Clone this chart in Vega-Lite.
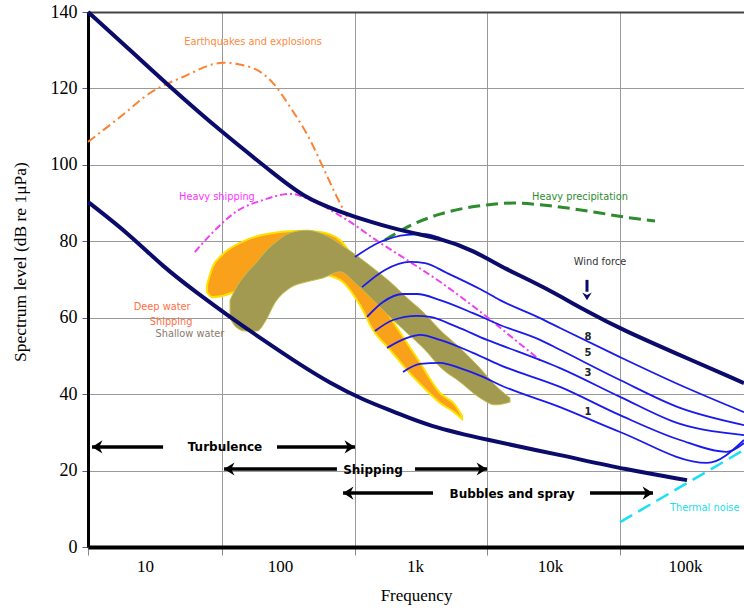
{
"$schema": "https://vega.github.io/schema/vega-lite/v6.json",
"width": 656, "height": 535,
"autosize": {"type": "none"},
"padding": {"left": 88, "top": 12, "right": 0, "bottom": 62},
"background": "white",
"config": {"view": {"stroke": null}},
"datasets": {
"curves": [
{"s":"hi","f":3.78,"db":140},{"s":"hi","f":7.74,"db":130.1},{"s":"hi","f":15.3,"db":120.4},{"s":"hi","f":37.8,"db":108.3},{"s":"hi","f":88.7,"db":97.9},{"s":"hi","f":148,"db":91.6},{"s":"hi","f":278,"db":87.7},{"s":"hi","f":464,"db":85.1},{"s":"hi","f":873,"db":82.4},{"s":"hi","f":1532,"db":80.8},{"s":"hi","f":2690,"db":77.7},{"s":"hi","f":4800,"db":72.5},{"s":"hi","f":8430,"db":68.6},{"s":"hi","f":19770,"db":61.2},{"s":"hi","f":34750,"db":56.8},{"s":"hi","f":81500,"db":51.0},{"s":"hi","f":273500,"db":42.9},
{"s":"lo","f":3.78,"db":90.3},{"s":"lo","f":7.74,"db":81.7},{"s":"lo","f":13.6,"db":73.3},{"s":"lo","f":24.3,"db":66.5},{"s":"lo","f":42.6,"db":60.2},{"s":"lo","f":74.8,"db":54.2},{"s":"lo","f":134,"db":48.2},{"s":"lo","f":234,"db":42.9},{"s":"lo","f":412,"db":38.5},{"s":"lo","f":736,"db":35.1},{"s":"lo","f":1228,"db":31.8},{"s":"lo","f":3410,"db":28.0},{"s":"lo","f":11860,"db":24.1},{"s":"lo","f":37150,"db":20.2},{"s":"lo","f":103500,"db":17.5},
{"s":"quake","f":3.78,"db":106.0},{"s":"quake","f":6.53,"db":112.5},{"s":"quake","f":10.9,"db":118.8},{"s":"quake","f":19.1,"db":123.0},{"s":"quake","f":37.8,"db":126.7},{"s":"quake","f":60,"db":125.6},{"s":"quake","f":88.7,"db":121.4},{"s":"quake","f":119,"db":115.1},{"s":"quake","f":167,"db":106.5},{"s":"quake","f":208,"db":99.4},{"s":"quake","f":264,"db":91.6},{"s":"quake","f":313,"db":86.4},
{"s":"ship","f":23.4,"db":77.2},{"s":"ship","f":31.9,"db":82.4},{"s":"ship","f":48,"db":87.9},{"s":"ship","f":74.8,"db":90.8},{"s":"ship","f":119,"db":92.4},{"s":"ship","f":188,"db":90.0},{"s":"ship","f":313,"db":85.6},{"s":"ship","f":551,"db":79.6},{"s":"ship","f":873,"db":75.1},{"s":"ship","f":1532,"db":69.4},{"s":"ship","f":3410,"db":60.2},{"s":"ship","f":5510,"db":54.2},{"s":"ship","f":8430,"db":48.9},
{"s":"rain","f":600,"db":80.3},{"s":"rain","f":873,"db":83.7},{"s":"rain","f":1532,"db":87.1},{"s":"rain","f":3410,"db":89.5},{"s":"rain","f":5320,"db":90.0},{"s":"rain","f":10520,"db":89.2},{"s":"rain","f":20840,"db":87.7},{"s":"rain","f":34750,"db":86.4},{"s":"rain","f":59950,"db":85.3},
{"s":"thermal","f":33000,"db":6.5},{"s":"thermal","f":273500,"db":25.4},
{"s":"w0","f":359,"db":75.9},{"s":"w0","f":551,"db":79.8},{"s":"w0","f":872,"db":81.7},{"s":"w0","f":1186,"db":81.9},{"s":"w0","f":1532,"db":80.9},
{"s":"w8","f":405,"db":68.0},{"s":"w8","f":599,"db":72.5},{"s":"w8","f":918,"db":74.6},{"s":"w8","f":1186,"db":74.3},{"s":"w8","f":1726,"db":71.7},{"s":"w8","f":3030,"db":67.5},{"s":"w8","f":4262,"db":64.6},{"s":"w8","f":8432,"db":59.9},{"s":"w8","f":11860,"db":57.3},{"s":"w8","f":33000,"db":49.7},{"s":"w8","f":91830,"db":42.4},{"s":"w8","f":273500,"db":35.3},
{"s":"w5","f":441,"db":60.2},{"s":"w5","f":579,"db":64.1},{"s":"w5","f":815,"db":66.2},{"s":"w5","f":1035,"db":66.2},{"s":"w5","f":1532,"db":64.6},{"s":"w5","f":2689,"db":61.2},{"s":"w5","f":4262,"db":58.1},{"s":"w5","f":8432,"db":54.2},{"s":"w5","f":11860,"db":51.6},{"s":"w5","f":33000,"db":43.7},{"s":"w5","f":91830,"db":36.4},{"s":"w5","f":273500,"db":31.9},
{"s":"w3","f":505,"db":56.5},{"s":"w3","f":687,"db":59.4},{"s":"w3","f":1035,"db":60.5},{"s":"w3","f":1292,"db":60.2},{"s":"w3","f":2047,"db":57.6},{"s":"w3","f":3415,"db":54.2},{"s":"w3","f":4262,"db":52.9},{"s":"w3","f":11860,"db":46.8},{"s":"w3","f":33000,"db":39.3},{"s":"w3","f":91830,"db":32.2},{"s":"w3","f":273500,"db":29.3},
{"s":"w2","f":620,"db":52.1},{"s":"w2","f":872,"db":54.7},{"s":"w2","f":1089,"db":55.5},{"s":"w2","f":1532,"db":54.2},{"s":"w2","f":2689,"db":50.8},{"s":"w2","f":4262,"db":47.6},{"s":"w2","f":11860,"db":41.9},{"s":"w2","f":33000,"db":34.5},{"s":"w2","f":91830,"db":28.0},{"s":"w2","f":204600,"db":24.9},{"s":"w2","f":273500,"db":27.2},
{"s":"w1","f":815,"db":45.8},{"s":"w1","f":1089,"db":47.9},{"s":"w1","f":1532,"db":48.2},{"s":"w1","f":2154,"db":46.8},{"s":"w1","f":3189,"db":44.5},{"s":"w1","f":4262,"db":42.4},{"s":"w1","f":11860,"db":36.6},{"s":"w1","f":33000,"db":30.1},{"s":"w1","f":145600,"db":22.0},{"s":"w1","f":273500,"db":28.0}
],
"bands": [
{"b":"orange","f":28.8,"db":68.6,"db2":66.7},{"b":"orange","f":31.4,"db":73.0,"db2":65.4},{"b":"orange","f":37.2,"db":76.4,"db2":65.7},{"b":"orange","f":50.6,"db":79.6,"db2":67.3},{"b":"orange","f":74.8,"db":81.7,"db2":69.1},{"b":"orange","f":133.6,"db":82.7,"db2":70.9},{"b":"orange","f":197.8,"db":82.4,"db2":71.4},{"b":"orange","f":278.3,"db":80.3,"db2":69.9},{"b":"orange","f":391.4,"db":72.5,"db2":63.3},{"b":"orange","f":488.6,"db":67.3,"db2":56.8},{"b":"orange","f":652.8,"db":60.2,"db2":51.6},{"b":"orange","f":872.4,"db":53.4,"db2":46.3},{"b":"orange","f":1089,"db":48.2,"db2":42.7},{"b":"orange","f":1532,"db":40.3,"db2":37.7},{"b":"orange","f":1978,"db":37.2,"db2":35.1},{"b":"orange","f":2229,"db":34.3,"db2":33.5},
{"b":"olive","f":42.6,"db":64.6,"db2":59.9},{"b":"olive","f":46.4,"db":67.3,"db2":57.8},{"b":"olive","f":55.1,"db":71.2,"db2":56.5},{"b":"olive","f":67.5,"db":74.6,"db2":56.5},{"b":"olive","f":77.4,"db":77.2,"db2":58.9},{"b":"olive","f":91.8,"db":79.6,"db2":63.9},{"b":"olive","f":118.6,"db":82.2,"db2":67.8},{"b":"olive","f":158.5,"db":82.9,"db2":69.4},{"b":"olive","f":208.2,"db":81.9,"db2":70.4},{"b":"olive","f":278.3,"db":79.3,"db2":72.0},{"b":"olive","f":371.9,"db":76.2,"db2":68.6},{"b":"olive","f":488.6,"db":73.0,"db2":64.6},{"b":"olive","f":652.8,"db":69.4,"db2":60.2},{"b":"olive","f":872.4,"db":65.2,"db2":56.0},{"b":"olive","f":1186,"db":61.0,"db2":51.6},{"b":"olive","f":1532,"db":56.8,"db2":47.1},{"b":"olive","f":2154,"db":52.1,"db2":43.2},{"b":"olive","f":3030,"db":46.8,"db2":39.0},{"b":"olive","f":3914,"db":42.4,"db2":37.2},{"b":"olive","f":5054,"db":39.0,"db2":37.9}
],
"arrows": [
{"f":4.05,"f2":13.6,"db":26.2},{"f":95,"f2":359,"db":26.2},
{"f":38.5,"f2":264,"db":20.4},{"f":1000,"f2":3415,"db":20.4},
{"f":293,"f2":1359,"db":14.1},{"f":19780,"f2":57940,"db":14.1}
],
"heads": [
{"dir":"left","f":4.05,"db":26.2},{"dir":"left","f":38.5,"db":20.4},{"dir":"left","f":293,"db":14.1},
{"dir":"right","f":359,"db":26.2},{"dir":"right","f":3415,"db":20.4},{"dir":"right","f":57940,"db":14.1},
{"dir":"down","f":18790,"db":64.6}
],
"windarrow": [{"f":18790,"db":69.9,"db2":66.8}],
"labels": [
{"kind":"note","label":"Earthquakes and explosions","f":63.1,"db":132.2},
{"kind":"note","label":"Heavy shipping","f":34.1,"db":91.6},
{"kind":"note","label":"Heavy precipitation","f":16680,"db":91.6},
{"kind":"note","label":"Wind force","f":23460,"db":74.6},
{"kind":"note","label":"Deep water","f":13.4,"db":62.8},
{"kind":"note","label":"Shipping","f":15.6,"db":58.9},
{"kind":"note","label":"Shallow water","f":21.5,"db":55.7},
{"kind":"note","label":"Thermal noise","f":140000,"db":10.2},
{"kind":"arrow","label":"Turbulence","f":39.1,"db":26.1},
{"kind":"arrow","label":"Shipping","f":488.6,"db":20.2},
{"kind":"arrow","label":"Bubbles and spray","f":5231,"db":13.9},
{"kind":"wind","label":"8","f":19120,"db":55.0},
{"kind":"wind","label":"5","f":19120,"db":50.8},
{"kind":"wind","label":"3","f":19120,"db":45.5},
{"kind":"wind","label":"1","f":19120,"db":35.3}
]
},
"encoding": {
"x": {"field":"f","type":"quantitative","scale":{"type":"log","domain":[3.78,273500],"nice":false},
 "axis":{"values":[3.78,10,37.2,100,359,1000,3415,10000,33000,100000],
  "labelExpr":"datum.value == 10 ? '10' : datum.value == 100 ? '100' : datum.value == 1000 ? '1k' : datum.value == 10000 ? '10k' : datum.value == 100000 ? '100k' : ''",
  "title":"Frequency","titleFont":"Liberation Serif","titleFontSize":17,"titleFontWeight":"normal","titleColor":"#000","titlePadding":13,
  "labelFont":"Liberation Serif","labelFontSize":17,"labelColor":"#000","labelPadding":3,"labelFlush":false,"labelOverlap":false,
  "tickSize":8,"tickColor":"#888","tickWidth":1,
  "tickOpacity":{"condition":{"test":"indexof([10,100,1000,10000,100000], datum.value) >= 0","value":0},"value":1},
  "grid":true,"gridColor":"#9a9a9a","gridWidth":1,
  "gridOpacity":{"condition":{"test":"indexof([10,100,1000,10000,100000], datum.value) >= 0","value":0},"value":1},
  "domainColor":"#000","domainWidth":4}},
"y": {"field":"db","type":"quantitative","scale":{"domain":[0,140],"nice":false},
 "axis":{"values":[0,20,40,60,80,100,120,140],"title":"Spectrum level (dB re 1\u03bcPa)",
  "titleFont":"Liberation Serif","titleFontSize":17.5,"titleFontWeight":"normal","titleColor":"#000","titlePadding":21,"titleY":249.5,
  "labelFont":"Liberation Serif","labelFontSize":18,"labelColor":"#000","labelPadding":5,
  "tickColor":"#5a5aa0","tickSize":6,"tickWidth":1,
  "grid":true,"gridColor":{"condition":{"test":"datum.value == 140","value":"#444"},"value":"#9a9a9a"},
  "gridWidth":{"condition":{"test":"datum.value == 140","value":2},"value":1},
  "domainColor":"#000","domainWidth":3}}
},
"layer": [
{"data":{"name":"bands"},"transform":[{"filter":"datum.b == 'orange'"}],
 "mark":{"type":"area","interpolate":"monotone","fill":"#F9A11B","stroke":"#FFE100","strokeWidth":2},
 "encoding":{"y2":{"field":"db2"}}},
{"data":{"name":"bands"},"transform":[{"filter":"datum.b == 'olive'"}],
 "mark":{"type":"area","interpolate":"monotone","fill":"#A39A52","stroke":"#C8BE4A","strokeWidth":1},
 "encoding":{"y2":{"field":"db2"}}},
{"data":{"name":"curves"},"transform":[{"filter":"datum.s == 'quake'"}],
 "mark":{"type":"line","interpolate":"monotone","color":"#FF8030","strokeWidth":2,"strokeDash":[9,4,2,4]},
 "encoding":{"detail":{"field":"s"}}},
{"data":{"name":"curves"},"transform":[{"filter":"datum.s == 'ship'"}],
 "mark":{"type":"line","interpolate":"monotone","color":"#F040F0","strokeWidth":2,"strokeDash":[7,3,2,3]},
 "encoding":{"detail":{"field":"s"}}},
{"data":{"name":"curves"},"transform":[{"filter":"datum.s == 'rain'"}],
 "mark":{"type":"line","interpolate":"monotone","color":"#2E8B2E","strokeWidth":3,"strokeDash":[12,6]},
 "encoding":{"detail":{"field":"s"}}},
{"data":{"name":"curves"},"transform":[{"filter":"datum.s == 'thermal'"}],
 "mark":{"type":"line","color":"#1AE0F5","strokeWidth":2.5,"strokeDash":[14,7]},
 "encoding":{"detail":{"field":"s"}}},
{"data":{"name":"curves"},"transform":[{"filter":"indexof(['w0','w8','w5','w3','w2','w1'], datum.s) >= 0"}],
 "mark":{"type":"line","interpolate":"monotone","color":"#1A1AEE","strokeWidth":1.8},
 "encoding":{"detail":{"field":"s"}}},
{"data":{"name":"curves"},"transform":[{"filter":"datum.s == 'hi' || datum.s == 'lo'"}],
 "mark":{"type":"line","interpolate":"basis","color":"#0B0B6B","strokeWidth":4},
 "encoding":{"detail":{"field":"s"}}},
{"data":{"name":"arrows"},
 "mark":{"type":"rule","color":"#000","strokeWidth":3.5},
 "encoding":{"x2":{"field":"f2"}}},
{"data":{"name":"heads"},"transform":[{"filter":"datum.dir == 'left'"}],
 "mark":{"type":"point","shape":"M0,0L1.6,-1L1.1,0L1.6,1Z","filled":true,"color":"#000","size":170,"opacity":1},
 "encoding":{}},
{"data":{"name":"heads"},"transform":[{"filter":"datum.dir == 'right'"}],
 "mark":{"type":"point","shape":"M0,0L-1.6,-1L-1.1,0L-1.6,1Z","filled":true,"color":"#000","size":170,"opacity":1},
 "encoding":{}},
{"data":{"name":"windarrow"},
 "mark":{"type":"rule","color":"#0B0B6B","strokeWidth":3},
 "encoding":{"y2":{"field":"db2"}}},
{"data":{"name":"heads"},"transform":[{"filter":"datum.dir == 'down'"}],
 "mark":{"type":"point","shape":"M0,0L-1,-1.6L0,-1.1L1,-1.6Z","filled":true,"color":"#0B0B6B","size":90,"opacity":1},
 "encoding":{}},
{"data":{"name":"labels"},"transform":[{"filter":"datum.kind == 'note'"}],
 "mark":{"type":"text","font":"DejaVu Sans","fontSize":9.8,"align":"center","baseline":"middle"},
 "encoding":{"text":{"field":"label"},
  "color":{"field":"label","type":"nominal","legend":null,
   "scale":{"domain":["Earthquakes and explosions","Heavy shipping","Heavy precipitation","Wind force","Deep water","Shipping","Shallow water","Thermal noise"],
            "range":["#FF8A3D","#FF33FF","#2E8B2E","#333333","#FF7043","#FF7043","#8A7A6A","#22DDEE"]}}}},
{"data":{"name":"labels"},"transform":[{"filter":"datum.kind == 'arrow'"}],
 "mark":{"type":"text","font":"DejaVu Sans","fontSize":12,"fontWeight":"bold","align":"center","baseline":"middle","color":"#000"},
 "encoding":{"text":{"field":"label"}}},
{"data":{"name":"labels"},"transform":[{"filter":"datum.kind == 'wind'"}],
 "mark":{"type":"text","font":"DejaVu Sans","fontSize":10,"fontWeight":"bold","align":"center","baseline":"middle","color":"#222"},
 "encoding":{"text":{"field":"label"}}}
]
}
